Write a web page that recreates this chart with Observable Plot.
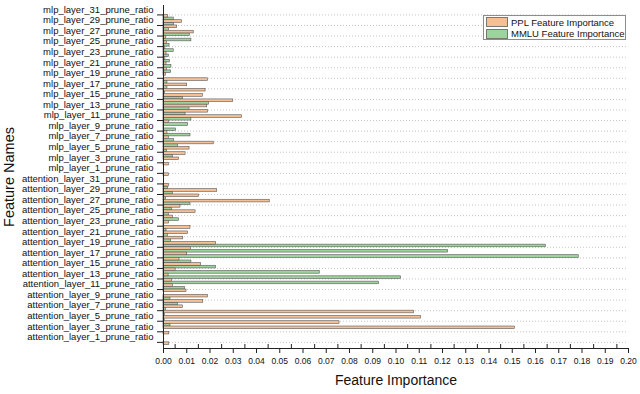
<!DOCTYPE html>
<html>
<head>
<meta charset="utf-8">
<script src="https://cdn.jsdelivr.net/npm/d3@7"></script>
<script src="https://cdn.jsdelivr.net/npm/@observablehq/plot@0.6"></script>
<style>
  body { margin: 0; background: #fff; }
  #wrap { position: relative; width: 640px; height: 394px; font-family: "Liberation Sans", Arial, sans-serif; }
  .legend { position: absolute; left: 483px; top: 15px; width: 141px; height: 23px; border: 1px solid #8c8c8c; background: #fff; font-size: 9.5px; color: #111; }
  .legend .row { position: absolute; left: 2px; height: 10px; display: flex; align-items: center; }
  .legend .sw { width: 20px; height: 8px; border: 0.6px solid #777; margin-right: 3px; }
</style>
</head>
<body>
<div id="wrap"></div>
<script>
// ---- data, index = layer number 0..31 ----
const layers = [0,1,2,3,4,5,6,7,8,9,10,11,12,13,14,15,16,17,18,19,20,21,22,23,24,25,26,27,28,29,30,31];

const attentionPPL = [0.0025,0,0.0025,0.1511,0.0757,0.1108,0.1078,0.0083,0.0171,0.0191,0.0099,0.0040,0.0037,0.0022,0.0052,0.0162,
                      0.0069,0.0102,0.0119,0.0226,0.0085,0.0106,0.0116,0.0024,0.0040,0.0138,0.0073,0.0457,0.0153,0.0231,0.0023,0];
const attentionMMLU = [0,0,0,0.0030,0.0005,0.0006,0.0011,0.0062,0.0030,0,0.0092,0.0926,0.1022,0.0672,0.0226,0.0120,
                       0.1786,0.1224,0.1644,0.0033,0.0019,0.0013,0.0003,0.0066,0.0023,0.0037,0.0116,0.0011,0.0040,0.0019,0,0];
const mlpPPL = [0.0023,0,0.0023,0.0066,0.0095,0.0112,0.0216,0.0023,0.0017,0.0003,0.0023,0.0338,0.0192,0.0188,0.0300,0.0169,
                0.0181,0.0102,0.0191,0.0011,0.0015,0.0013,0.0008,0.0013,0.0008,0.0015,0.0011,0.0130,0.0059,0.0080,0.0020,0];
const mlpMMLU = [0,0,0,0.0040,0.0015,0.0063,0.0046,0.0116,0.0054,0.0106,0.0120,0.0095,0.0112,0.0196,0.0083,0.0006,
                 0.0017,0.0017,0,0.0033,0.0034,0.0027,0.0023,0.0044,0.0026,0.0120,0.0113,0.0023,0.0046,0.0044,0,0];

const xTicks = [0,0.01,0.02,0.03,0.04,0.05,0.06,0.07,0.08,0.09,0.10,0.11,0.12,0.13,0.14,0.15,0.16,0.17,0.18,0.19,0.20];
const xMinorTicks = [0.005,0.015,0.025,0.035,0.045,0.055,0.065,0.075,0.085,0.095,0.105,0.115,0.125,0.135,0.145,0.155,0.165,0.175,0.185,0.195];
const seriesNames = ["PPL Feature Importance", "MMLU Feature Importance"];
const ORANGE = "#f6c096";
const GREEN = "#9fd39d";

// ---- build tables ----
const mlpName = L => `mlp_layer_${L}_prune_ratio`;
const attName = L => `attention_layer_${L}_prune_ratio`;
const desc = layers.slice().reverse();
const features = [...desc.map(mlpName), ...desc.map(attName)]; // top to bottom

const ppl = [], mmlu = [];
for (const L of layers) {
  ppl.push({feature: mlpName(L), value: mlpPPL[L]});
  ppl.push({feature: attName(L), value: attentionPPL[L]});
  mmlu.push({feature: mlpName(L), value: mlpMMLU[L]});
  mmlu.push({feature: attName(L), value: attentionMMLU[L]});
}
const pplBars = ppl.filter(d => d.value > 0);
const mmluBars = mmlu.filter(d => d.value > 0);

const labeled = features.filter((d, i) => i % 2 === 0);
const unlabeled = features.filter((d, i) => i % 2 === 1);

const yTop = 6.5, yBottom = 344.5;
const half = (yBottom - yTop) / features.length / 2;

const chart = Plot.plot({
  width: 640,
  height: 394,
  marginLeft: 163,
  marginRight: 12,
  marginTop: 5,
  marginBottom: 46,
  style: {fontFamily: "'Liberation Sans', Arial, sans-serif", background: "#fff", color: "#111"},
  x: {domain: [0, 0.2]},
  y: {type: "band", domain: features, range: [yTop, yBottom], padding: 0, round: false},
  marks: [
    Plot.gridY(unlabeled, {stroke: "#b5b5b5", strokeOpacity: 0.8, strokeDasharray: "1,2"}),
    Plot.barX(mmluBars, {y: "feature", x: "value", fill: GREEN, stroke: "#555", strokeWidth: 0.6, insetBottom: half}),
    Plot.barX(pplBars, {y: "feature", x: "value", fill: ORANGE, stroke: "#555", strokeWidth: 0.6, insetTop: half}),
    Plot.axisY(labeled, {tickSize: 0, tickPadding: 10, fontSize: 9.5, label: null}),
    Plot.axisY(unlabeled, {tickSize: 6, tickFormat: () => "", label: null, stroke: "#222"}),
    Plot.ruleX([0], {stroke: "#222", strokeWidth: 1}),
    Plot.frame({anchor: "bottom", stroke: "#222"}),
    Plot.axisX(xTicks, {tickSize: 5, tickPadding: 4, tickFormat: d3.format(".2f"), fontSize: 8.5, label: null, stroke: "#222"}),
    Plot.axisX(xMinorTicks, {tickSize: 4, dy: -4, tickFormat: () => "", label: null, stroke: "#222"}),
    Plot.text(["Feature Importance"], {frameAnchor: "bottom", dy: 36, fontSize: 14}),
    Plot.text(["Feature Names"], {frameAnchor: "left", dx: -154, rotate: -90, textAnchor: "middle", fontSize: 14.5})
  ]
});

const wrap = document.getElementById("wrap");
wrap.appendChild(chart);

const legend = document.createElement("div");
legend.className = "legend";
[[seriesNames[0], ORANGE, 1], [seriesNames[1], GREEN, 12.5]].forEach(([name, color, top]) => {
  const row = document.createElement("div");
  row.className = "row";
  row.style.top = top + "px";
  const sw = document.createElement("div");
  sw.className = "sw";
  sw.style.background = color;
  const t = document.createElement("span");
  t.textContent = name;
  row.appendChild(sw);
  row.appendChild(t);
  legend.appendChild(row);
});
wrap.appendChild(legend);
</script>
</body>
</html>
